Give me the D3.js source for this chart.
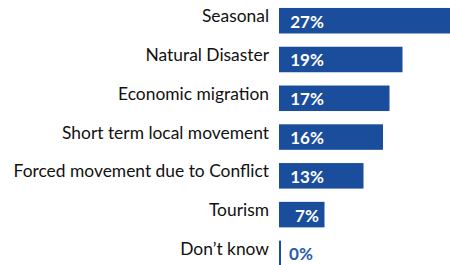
<!DOCTYPE html>
<html>
<head>
<meta charset="utf-8">
<script src="https://cdn.jsdelivr.net/npm/d3@7"></script>
<style>
  body { margin: 0; background: #fff; }
  text { font-family: Lato, "Open Sans", sans-serif; }
</style>
</head>
<body>
<div id="chart"></div>
<script>
var categories = ["Seasonal", "Natural Disaster", "Economic migration", "Short term local movement",
                  "Forced movement due to Conflict", "Tourism", "Don\u2019t know"];
var values = [27, 19, 17, 16, 13, 7, 0];

function init() {
    var w = 450;
    var h = 265;
    var x0 = 279;

    var svg = d3.select("#chart")
            .append("svg")
            .attr("width", w)
            .attr("height", h);

    // 6.5px per percent
    var x = d3.scaleLinear()
            .domain([0, 27])
            .range([x0, x0 + 27 * 6.5]);

    var y = d3.scaleBand()
            .domain(categories)
            .range([-5.3, 279.4])
            .padding(0.342);

    var data = categories.map(function(c, i) { return {cat: c, val: values[i]}; });

    // bars (0% gets a thin line)
    svg.selectAll("rect")
        .data(data)
        .enter()
        .append("rect")
        .attr("x", x0)
        .attr("y", function(d) { return y(d.cat); })
        .attr("width", function(d) { return d.val > 0 ? x(d.val) - x0 : 2; })
        .attr("height", y.bandwidth())
        .style("fill", "#1a4d9c");

    // category labels
    svg.selectAll("text.cat")
        .data(data)
        .enter()
        .append("text")
        .attr("class", "cat")
        .attr("x", 269)
        .attr("y", function(d) { return y(d.cat) + y.bandwidth() / 2 + 1.5; })
        .attr("text-anchor", "end")
        .style("font-size", "17.4px")
        .style("fill", "#111")
        .text(function(d) { return d.cat; });

    // value labels
    svg.selectAll("text.val")
        .data(data)
        .enter()
        .append("text")
        .attr("class", "val")
        .attr("x", function(d) { return d.val > 0 ? x0 + 28 : x0 + 22; })
        .attr("y", function(d) { return y(d.cat) + y.bandwidth() / 2 + 7; })
        .attr("text-anchor", "middle")
        .style("font-size", "17px")
        .style("font-weight", "bold")
        .style("fill", function(d) { return d.val > 0 ? "#fff" : "#2a5ca8"; })
        .text(function(d) { return d.val + "%"; });
}

window.onload = init;
</script>
</body>
</html>
